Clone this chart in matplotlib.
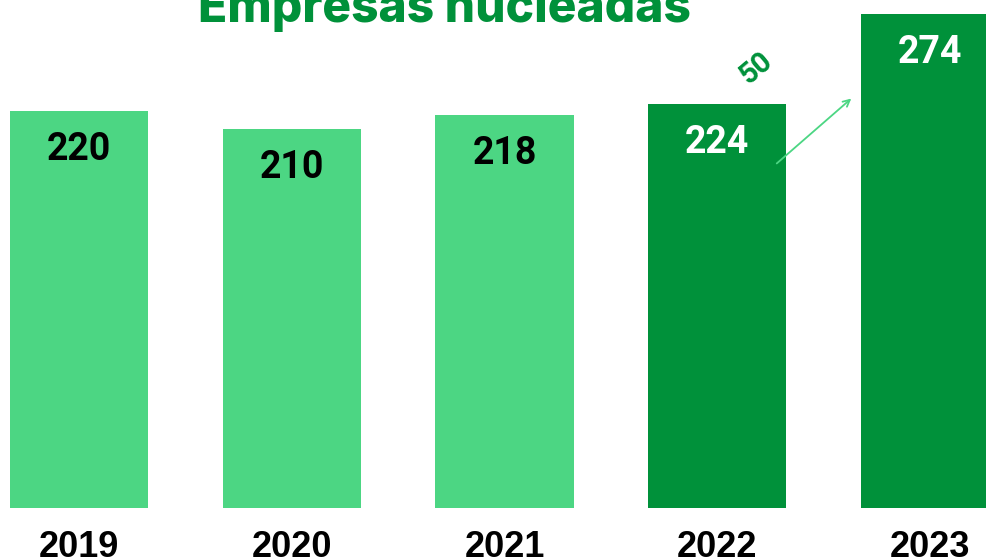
import matplotlib
matplotlib.use("Agg")
import matplotlib.pyplot as plt

# data
years = ["2019", "2020", "2021", "2022", "2023"]
companies = [220, 210, 218, 224, 274]
highlight = [False, False, False, True, True]
growth_label = "50"
title = "Empresas nucleadas"

LIGHT = "#4cd683"
DARK = "#00913a"

fig = plt.figure(figsize=(9.87, 5.6), dpi=100)
ax = fig.add_axes([0, 0, 1, 1])

x = list(range(len(years)))
colors = [DARK if h else LIGHT for h in highlight]
ax.bar(x, companies, width=0.65, color=colors, zorder=2)

for xi, v, h in zip(x, companies, highlight):
    ax.text(xi, v - 21.5, str(v), ha="center", va="center",
            fontsize=27, fontweight="bold", family="Roboto",
            color="white" if h else "black", zorder=3)
    ax.text(xi, -22, years[xi], ha="center", va="center",
            fontsize=26, fontweight="bold",
            family=["Liberation Sans Narrow", "Liberation Sans"], color="black")

# growth arrow between the last two bars
ax.annotate("", xy=(4 - 0.36, companies[4] - 46), xytext=(3 + 0.27, companies[3] - 34),
            arrowprops=dict(arrowstyle="->", color=LIGHT, lw=1.3,
                            mutation_scale=12), zorder=4)
ax.text(3 + 0.185, companies[3] + 20, growth_label, ha="center", va="center",
        rotation=40, fontsize=21, fontweight="bold", family="Roboto", color=DARK)

ax.text(1.716, 269.5, title, ha="center", va="baseline", fontsize=34.5,
        fontweight="heavy", family="Inter", color=DARK)

ax.set_xlim(-0.371, 4.268)
ax.set_ylim(-28.8, 281.6)
ax.axis("off")

fig.savefig("out.png", dpi=100)
